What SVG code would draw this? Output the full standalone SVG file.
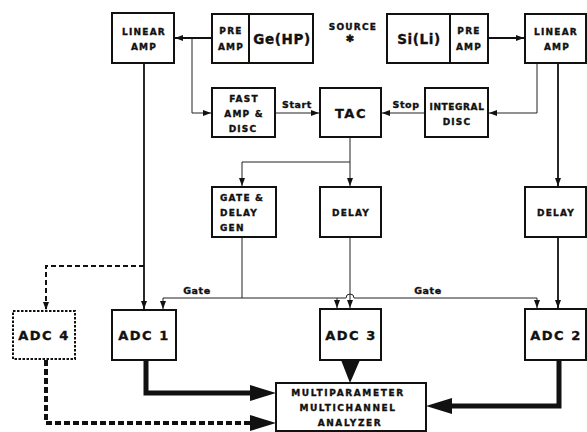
<svg xmlns="http://www.w3.org/2000/svg" width="587" height="432" viewBox="0 0 587 432">
<style>
.box{fill:#fff;stroke:#111;stroke-width:2}
.dbox{fill:#fff;stroke:#111;stroke-width:2;stroke-dasharray:2.5 1.5}
text{font-family:"DejaVu Sans","Liberation Sans",sans-serif;font-weight:bold;fill:#111;stroke:#111;stroke-width:0.35;text-anchor:middle}
.s{font-size:9px;letter-spacing:1.2px}
.m{font-size:13px;letter-spacing:1.5px}
.l{font-size:13.5px;letter-spacing:0.6px}
.lab{font-size:9.5px;letter-spacing:0.6px}
.st{text-anchor:start}
.thin{fill:none;stroke:#222;stroke-width:1}
.med{fill:none;stroke:#111;stroke-width:1.8}
.thick{fill:none;stroke:#111;stroke-width:5}
.dash{fill:none;stroke:#111;stroke-width:2;stroke-dasharray:5 3}
.dthick{fill:none;stroke:#111;stroke-width:4;stroke-dasharray:6 3}
</style>
<defs>
<marker id="a" markerUnits="userSpaceOnUse" markerWidth="10" markerHeight="8" refX="8" refY="4" orient="auto">
<path d="M0,1 L8,4 L0,7 Z" fill="#111"/>
</marker>
</defs>

<g id="connectors">
<path class="med" d="M212,38 H175" marker-end="url(#a)"/>
<path class="thin" d="M192,38 V113 H211" marker-end="url(#a)"/>
<path class="thin" d="M275,113 H319" marker-end="url(#a)"/>
<text class="lab" x="297" y="108">Start</text>
<path class="thin" d="M425,113 H382" marker-end="url(#a)"/>
<text class="lab" x="406" y="108">Stop</text>
<path class="med" d="M488,38 H524" marker-end="url(#a)"/>
<path class="thin" d="M537,63 V113 H489" marker-end="url(#a)"/>
<path class="med" d="M558,63 V186" marker-end="url(#a)"/>
<path class="med" d="M558,237 V308" marker-end="url(#a)"/>
<path class="thin" d="M350,137 V186" marker-end="url(#a)"/>
<path class="thin" d="M350,162 H242 V186" marker-end="url(#a)"/>
<path class="thin" d="M350,237 V308" marker-end="url(#a)"/>
<path class="thin" d="M242,237 V298"/>
<path class="thin" d="M163,298 H346 A4,4 0 0 1 354,298 H537"/>
<path class="thin" d="M163,298 V309" marker-end="url(#a)"/>
<path class="thin" d="M337,298 V308" marker-end="url(#a)"/>
<path class="thin" d="M537,298 V308" marker-end="url(#a)"/>
<text class="lab" x="197" y="294">Gate</text>
<text class="lab" x="428" y="294">Gate</text>
<path class="med" d="M144,63 V309" marker-end="url(#a)"/>
<path class="dash" d="M144,266 H46 V310" marker-end="url(#a)"/>
<path class="thick" d="M146,360 V393 H258"/>
<path d="M250,385 L276,393 L250,401 Z" fill="#111"/>
<path class="dthick" d="M46,360 V423 H254"/>
<path d="M250,415 L276,423 L250,431 Z" fill="#111"/>
<path d="M341,360 L360,360 L350,383 Z" fill="#111"/>
<path class="thick" d="M559,360 V406 H445"/>
<path d="M452,398 L426,406 L452,414 Z" fill="#111"/>
</g>

<g id="linear-amp-left">
<rect class="box" x="112" y="13" width="62" height="50"/>
<text class="s" x="144" y="35">LINEAR</text>
<text class="s" x="144" y="50">AMP</text>
</g>
<g id="ge-detector">
<rect class="box" x="212" y="14" width="101" height="49"/>
<line x1="249" y1="14" x2="249" y2="63" stroke="#111" stroke-width="2"/>
<text class="s" x="231" y="34">PRE</text>
<text class="s" x="231" y="50">AMP</text>
<text class="l" x="282" y="44">Ge(HP)</text>
</g>
<g id="source">
<text class="s" x="353" y="30">SOURCE</text>
<text x="350" y="42" style="font-size:10px;stroke-width:0.6">✱</text>
</g>
<g id="si-detector">
<rect class="box" x="387" y="14" width="101" height="49"/>
<line x1="450" y1="14" x2="450" y2="63" stroke="#111" stroke-width="2"/>
<text class="l" x="419" y="44">Si(Li)</text>
<text class="s" x="469" y="34">PRE</text>
<text class="s" x="469" y="50">AMP</text>
</g>
<g id="linear-amp-right">
<rect class="box" x="525" y="14" width="61" height="49"/>
<text class="s" x="556" y="35">LINEAR</text>
<text class="s" x="557" y="50">AMP</text>
</g>
<g id="fast-amp-disc">
<rect class="box" x="212" y="88" width="63" height="49"/>
<text class="s" x="244" y="102">FAST</text>
<text class="s" x="244" y="117">AMP &amp;</text>
<text class="s" x="243" y="132">DISC</text>
</g>
<g id="tac">
<rect class="box" x="320" y="88" width="61" height="49"/>
<text class="m" x="351" y="118">TAC</text>
</g>
<g id="integral-disc">
<rect class="box" x="425" y="88" width="63" height="49"/>
<text class="s" x="457" y="110" style="letter-spacing:0.6px">INTEGRAL</text>
<text class="s" x="457" y="125">DISC</text>
</g>
<g id="gate-delay-gen">
<rect class="box" x="212" y="187" width="64" height="50"/>
<text class="s st" x="220" y="201">GATE &amp;</text>
<text class="s st" x="220" y="216">DELAY</text>
<text class="s st" x="220" y="231">GEN</text>
</g>
<g id="delay-mid">
<rect class="box" x="320" y="187" width="61" height="50"/>
<text class="s" x="351" y="216">DELAY</text>
</g>
<g id="delay-right">
<rect class="box" x="525" y="187" width="61" height="50"/>
<text class="s" x="556" y="216">DELAY</text>
</g>
<g id="adc4">
<rect class="dbox" x="13" y="311" width="62" height="48"/>
<text class="m" x="44" y="340">ADC 4</text>
</g>
<g id="adc1">
<rect class="box" x="112" y="310" width="64" height="50"/>
<text class="m" x="144" y="340">ADC 1</text>
</g>
<g id="adc3">
<rect class="box" x="320" y="309" width="61" height="51"/>
<text class="m" x="351" y="340">ADC 3</text>
</g>
<g id="adc2">
<rect class="box" x="525" y="309" width="61" height="51"/>
<text class="m" x="556" y="340">ADC 2</text>
</g>
<g id="mca">
<rect class="box" x="276" y="383" width="150" height="48"/>
<text class="s" x="348" y="396" style="letter-spacing:1.6px">MULTIPARAMETER</text>
<text class="s" x="348" y="411" style="letter-spacing:1.6px">MULTICHANNEL</text>
<text class="s" x="350" y="426" style="letter-spacing:1.6px">ANALYZER</text>
</g>
</svg>
